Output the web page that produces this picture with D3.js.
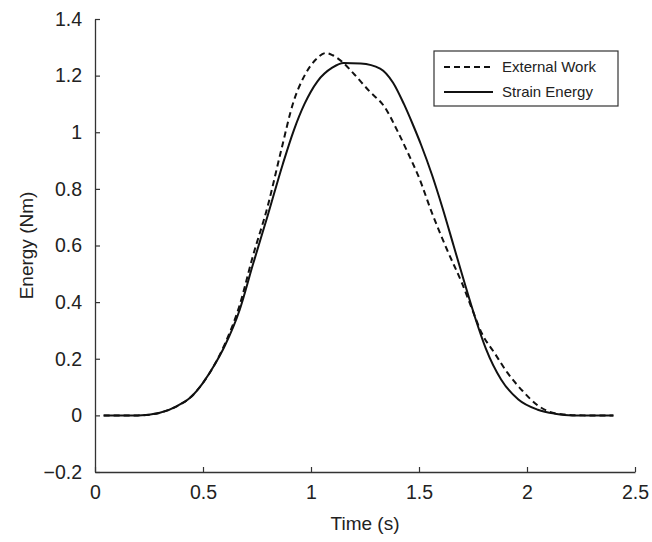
<!DOCTYPE html>
<html>
<head>
<meta charset="utf-8">
<script src="https://cdn.jsdelivr.net/npm/d3@7"></script>
<style>
  body { margin: 0; background: #fff; }
  svg text { font-family: "Liberation Sans", Arial, Helvetica, sans-serif; fill: #222; }
</style>
</head>
<body>
<div id="chart"></div>
<script>
// time (s) and energy (Nm)
var workTime = [0.04, 0.2, 0.3, 0.38, 0.44, 0.5, 0.55, 0.6, 0.67, 0.73, 0.8, 0.86, 0.92, 0.97, 1.02, 1.07, 1.1, 1.15, 1.2, 1.27, 1.34, 1.4, 1.45, 1.5, 1.56, 1.63, 1.7, 1.75, 1.79, 1.85, 1.91, 1.98, 2.05, 2.1, 2.16, 2.26, 2.4];
var workEnergy = [0, 0, 0.009, 0.033, 0.062, 0.115, 0.174, 0.25, 0.39, 0.56, 0.74, 0.93, 1.11, 1.2, 1.255, 1.28, 1.272, 1.245, 1.205, 1.145, 1.09, 1.005, 0.925, 0.84, 0.715, 0.585, 0.465, 0.367, 0.291, 0.22, 0.15, 0.086, 0.035, 0.014, 0.004, 0, 0];

var strainTime = [0.04, 0.2, 0.3, 0.38, 0.44, 0.5, 0.55, 0.6, 0.67, 0.73, 0.8, 0.87, 0.92, 0.97, 1.03, 1.1, 1.15, 1.23, 1.32, 1.38, 1.43, 1.47, 1.51, 1.56, 1.61, 1.66, 1.71, 1.76, 1.81, 1.88, 1.96, 2.05, 2.13, 2.21, 2.4];
var strainEnergy = [0, 0, 0.009, 0.033, 0.062, 0.115, 0.174, 0.244, 0.373, 0.53, 0.707, 0.889, 1.006, 1.1, 1.18, 1.229, 1.245, 1.243, 1.225, 1.175, 1.1, 1.03, 0.955, 0.85, 0.73, 0.6, 0.47, 0.345, 0.235, 0.127, 0.056, 0.02, 0.006, 0, 0];

var xTicks = [0, 0.5, 1, 1.5, 2, 2.5];
var yTicks = [-0.2, 0, 0.2, 0.4, 0.6, 0.8, 1, 1.2, 1.4];
var legendNames = ["External Work", "Strain Energy"];

var width = 652, height = 542,
    margin = {top: 19, right: 17, bottom: 70, left: 95};

var svg = d3.select("#chart").append("svg")
    .attr("width", width)
    .attr("height", height);

var x = d3.scaleLinear().domain([0, 2.5]).range([margin.left, width - margin.right]);
var y = d3.scaleLinear().domain([-0.2, 1.4]).range([height - margin.bottom, margin.top]);

// axes, ticks pointing inward
var xAxis = svg.append("g")
    .attr("transform", "translate(0," + y(-0.2) + ")")
    .call(d3.axisBottom(x).tickValues(xTicks).tickSizeInner(-5).tickSizeOuter(0)
        .tickPadding(13).tickFormat(d3.format("")));

var yAxis = svg.append("g")
    .attr("transform", "translate(" + x(0) + ",0)")
    .call(d3.axisLeft(y).tickValues(yTicks).tickSizeInner(-5).tickSizeOuter(0)
        .tickPadding(13).tickFormat(function(d) { return d < 0 ? "\u2212" + Math.abs(d) : d; }));

[xAxis, yAxis].forEach(function(a) {
    a.select(".domain").attr("stroke", "#333").attr("stroke-width", 1.3);
    a.selectAll(".tick line").attr("stroke", "#333").attr("stroke-width", 1.2);
    a.selectAll(".tick text").style("font-size", "19.5px").attr("fill", "#222");
});

// axis titles
svg.append("text")
    .attr("x", (x(0) + x(2.5)) / 2)
    .attr("y", 530)
    .attr("text-anchor", "middle")
    .style("font-size", "19px")
    .text("Time (s)");

svg.append("text")
    .attr("transform", "translate(33," + y(0.6) + ") rotate(-90)")
    .attr("text-anchor", "middle")
    .style("font-size", "19px")
    .text("Energy (Nm)");

var line = d3.line()
    .x(function(d) { return x(d[0]); })
    .y(function(d) { return y(d[1]); })
    .curve(d3.curveMonotoneX);

svg.append("path")
    .datum(d3.zip(strainTime, strainEnergy))
    .attr("fill", "none")
    .attr("stroke", "#111")
    .attr("stroke-width", 2)
    .attr("d", line);

svg.append("path")
    .datum(d3.zip(workTime, workEnergy))
    .attr("fill", "none")
    .attr("stroke", "#111")
    .attr("stroke-width", 2)
    .attr("stroke-dasharray", "6,4")
    .attr("d", line);

// legend
var legend = svg.append("g").attr("transform", "translate(434,51)");

legend.append("rect")
    .attr("width", 184)
    .attr("height", 55)
    .attr("fill", "#fff")
    .attr("stroke", "#333")
    .attr("stroke-width", 1.2);

var item = legend.selectAll(".item")
    .data(legendNames)
    .enter().append("g")
    .attr("class", "item")
    .attr("transform", function(d, i) { return "translate(0," + (16 + i * 25) + ")"; });

item.append("line")
    .attr("x1", 10)
    .attr("x2", 59)
    .attr("stroke", "#111")
    .attr("stroke-width", 2)
    .attr("stroke-dasharray", function(d, i) { return i === 0 ? "6,4" : null; });

item.append("text")
    .attr("x", 68)
    .attr("dy", "0.35em")
    .style("font-size", "15px")
    .text(function(d) { return d; });
</script>
</body>
</html>
